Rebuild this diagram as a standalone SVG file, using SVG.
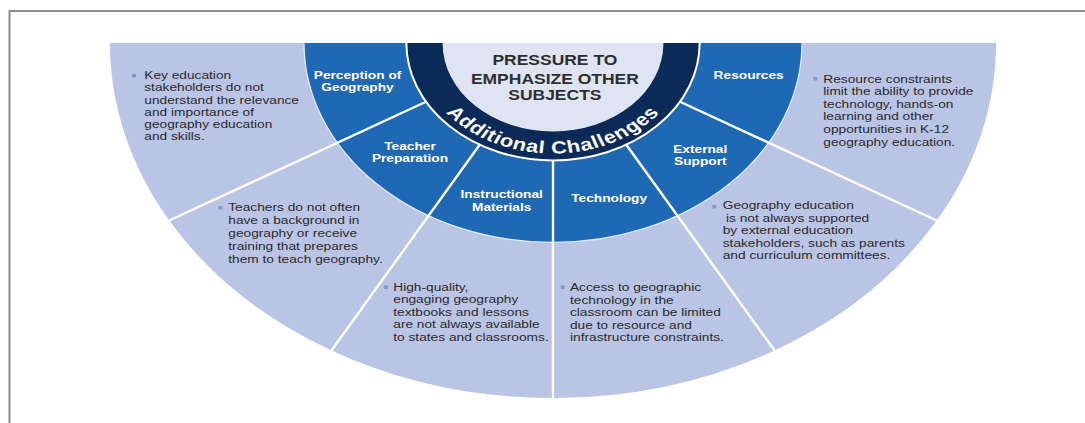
<svg xmlns="http://www.w3.org/2000/svg" width="1085" height="423" viewBox="0 0 1085 423">
<style>
.light{fill:#bac4e4}
.blue{fill:#1f68b3}
.desc{font-family:"Liberation Sans",Arial,sans-serif;font-size:11px;fill:#2a2a2a}
.lbl{font-family:"Liberation Sans",Arial,sans-serif;font-size:11px;font-weight:bold;fill:#ffffff;text-anchor:middle}
.blt{fill:#7e9bd0}
.div{stroke:#ffffff;stroke-width:2.4;fill:none;vector-effect:non-scaling-stroke}
</style>
<defs>
<path id="acArc" d="M 442.5 43 A 110.5 110.5 0 0 0 663.5 43"/>
</defs>
<rect x="0" y="0" width="1085" height="423" fill="#ffffff"/>
<path d="M 9.5 423 V 11 H 1085" fill="none" stroke="#8c8c8c" stroke-width="2"/>
<g transform="matrix(1.248 0 0 1 -137.144 0)">
<g id="node-perception">
<path class="light" d="M 380.23 142.75 L 245.56 220.5 A 355 355 0 0 1 198 43 L 353.5 43 A 199.5 199.5 0 0 0 380.23 142.75 Z"/>
<path class="blue" d="M 451.24 101.75 L 380.23 142.75 A 199.5 199.5 0 0 1 353.5 43 L 435.5 43 A 117.5 117.5 0 0 0 451.24 101.75 Z"/>
<text class="lbl" x="396.4" y="79">Perception of</text>
<text class="lbl" x="396.4" y="91.5">Geography</text>
<rect class="blt" x="215.7" y="74" width="3.2" height="3.5"/>
<text class="desc"><tspan x="225.5" y="79">Key education</tspan><tspan x="225.5" y="91.3">stakeholders do not</tspan><tspan x="225.5" y="103.6">understand the relevance</tspan><tspan x="225.5" y="115.9">and importance of</tspan><tspan x="225.5" y="128.2">geography education</tspan><tspan x="225.5" y="140.5">and skills.</tspan></text>
</g>
<g id="node-teacher">
<path class="light" d="M 453.25 215.77 L 375.5 350.44 A 355 355 0 0 1 245.56 220.5 L 380.23 142.75 A 199.5 199.5 0 0 0 453.25 215.77 Z"/>
<path class="blue" d="M 494.25 144.76 L 453.25 215.77 A 199.5 199.5 0 0 1 380.23 142.75 L 451.24 101.75 A 117.5 117.5 0 0 0 494.25 144.76 Z"/>
<text class="lbl" x="438.4" y="150.5">Teacher</text>
<text class="lbl" x="438.4" y="162.5">Preparation</text>
<rect class="blt" x="284.8" y="206" width="3.2" height="3.5"/>
<text class="desc"><tspan x="292.8" y="211">Teachers do not often</tspan><tspan x="292.8" y="224">have a background in</tspan><tspan x="292.8" y="237">geography or receive</tspan><tspan x="292.8" y="250">training that prepares</tspan><tspan x="292.8" y="263">them to teach geography.</tspan></text>
</g>
<g id="node-instructional">
<path class="light" d="M 553 242.5 L 553 398 A 355 355 0 0 1 375.5 350.44 L 453.25 215.77 A 199.5 199.5 0 0 0 553 242.5 Z"/>
<path class="blue" d="M 553 160.5 L 553 242.5 A 199.5 199.5 0 0 1 453.25 215.77 L 494.25 144.76 A 117.5 117.5 0 0 0 553 160.5 Z"/>
<text class="lbl" x="511.9" y="198">Instructional</text>
<text class="lbl" x="511.9" y="211">Materials</text>
<rect class="blt" x="417.6" y="285.5" width="3.2" height="3.5"/>
<text class="desc"><tspan x="425" y="291">High-quality,</tspan><tspan x="425" y="303.4">engaging geography</tspan><tspan x="425" y="315.8">textbooks and lessons</tspan><tspan x="425" y="328.2">are not always available</tspan><tspan x="425" y="340.6">to states and classrooms.</tspan></text>
</g>
<g id="node-technology">
<path class="light" d="M 652.75 215.77 L 730.5 350.44 A 355 355 0 0 1 553 398 L 553 242.5 A 199.5 199.5 0 0 0 652.75 215.77 Z"/>
<path class="blue" d="M 611.75 144.76 L 652.75 215.77 A 199.5 199.5 0 0 1 553 242.5 L 553 160.5 A 117.5 117.5 0 0 0 611.75 144.76 Z"/>
<text class="lbl" x="598" y="202.5">Technology</text>
<rect class="blt" x="559.2" y="285.5" width="3.2" height="3.5"/>
<text class="desc"><tspan x="566.6" y="291">Access to geographic</tspan><tspan x="566.6" y="303.6">technology in the</tspan><tspan x="566.6" y="316.2">classroom can be limited</tspan><tspan x="566.6" y="328.8">due to resource and</tspan><tspan x="566.6" y="341.4">infrastructure constraints.</tspan></text>
</g>
<g id="node-external">
<path class="light" d="M 725.77 142.75 L 860.44 220.5 A 355 355 0 0 1 730.5 350.44 L 652.75 215.77 A 199.5 199.5 0 0 0 725.77 142.75 Z"/>
<path class="blue" d="M 654.76 101.75 L 725.77 142.75 A 199.5 199.5 0 0 1 652.75 215.77 L 611.75 144.76 A 117.5 117.5 0 0 0 654.76 101.75 Z"/>
<text class="lbl" x="671" y="152.7">External</text>
<text class="lbl" x="671" y="165.3">Support</text>
<rect class="blt" x="680.6" y="205" width="3.2" height="3.5"/>
<text class="desc"><tspan x="689" y="209.5">Geography education</tspan><tspan x="691.6" y="222">is not always supported</tspan><tspan x="689" y="234.5">by external education</tspan><tspan x="689" y="247">stakeholders, such as parents</tspan><tspan x="689" y="259.5">and curriculum committees.</tspan></text>
</g>
<g id="node-resources">
<path class="light" d="M 752.5 43 L 908 43 A 355 355 0 0 1 860.44 220.5 L 725.77 142.75 A 199.5 199.5 0 0 0 752.5 43 Z"/>
<path class="blue" d="M 670.5 43 L 752.5 43 A 199.5 199.5 0 0 1 725.77 142.75 L 654.76 101.75 A 117.5 117.5 0 0 0 670.5 43 Z"/>
<text class="lbl" x="709.8" y="79">Resources</text>
<rect class="blt" x="761.6" y="77" width="3.2" height="3.5"/>
<text class="desc"><tspan x="769.6" y="82.7">Resource constraints</tspan><tspan x="769.6" y="95.3">limit the ability to provide</tspan><tspan x="769.6" y="107.9">technology, hands-on</tspan><tspan x="769.6" y="120.5">learning and other</tspan><tspan x="769.6" y="133.1">opportunities in K-12</tspan><tspan x="769.6" y="145.7">geography education.</tspan></text>
</g>
<g id="connectors">
<path class="div" d="M 654.76 101.75 L 860.44 220.5 M 611.75 144.76 L 730.5 350.44 M 553 160.5 L 553 398 M 494.25 144.76 L 375.5 350.44 M 451.24 101.75 L 245.56 220.5"/>
<path d="M 353.5 43 A 199.5 199.5 0 0 0 752.5 43" fill="none" stroke="#ffffff" stroke-width="1.2" stroke-opacity="0.8" vector-effect="non-scaling-stroke"/>
</g>
<g id="node-center">
<path d="M 435.5 43 A 117.5 117.5 0 0 0 670.5 43 Z" fill="#0c2a57"/>
<path d="M 435.5 43 A 117.5 117.5 0 0 0 670.5 43" fill="none" stroke="#ffffff" stroke-width="2" vector-effect="non-scaling-stroke"/>
<path d="M 464.5 43 A 88.5 88.5 0 0 0 641.5 43 Z" fill="#dfe4f3"/>
<text font-family="'Liberation Sans',Arial,sans-serif" font-size="14" font-weight="bold" fill="#2e2e2e" text-anchor="middle"><tspan x="554.5" y="65.5">PRESSURE TO</tspan><tspan x="554.5" y="84">EMPHASIZE OTHER</tspan><tspan x="554.5" y="100.5">SUBJECTS</tspan></text>
<text font-family="'Liberation Sans',Arial,sans-serif" font-size="17.5" font-weight="bold" fill="#ffffff" text-anchor="middle" letter-spacing="0.6"><textPath href="#acArc" startOffset="50%">Additional Challenges</textPath></text>
</g>
</g>
</svg>
